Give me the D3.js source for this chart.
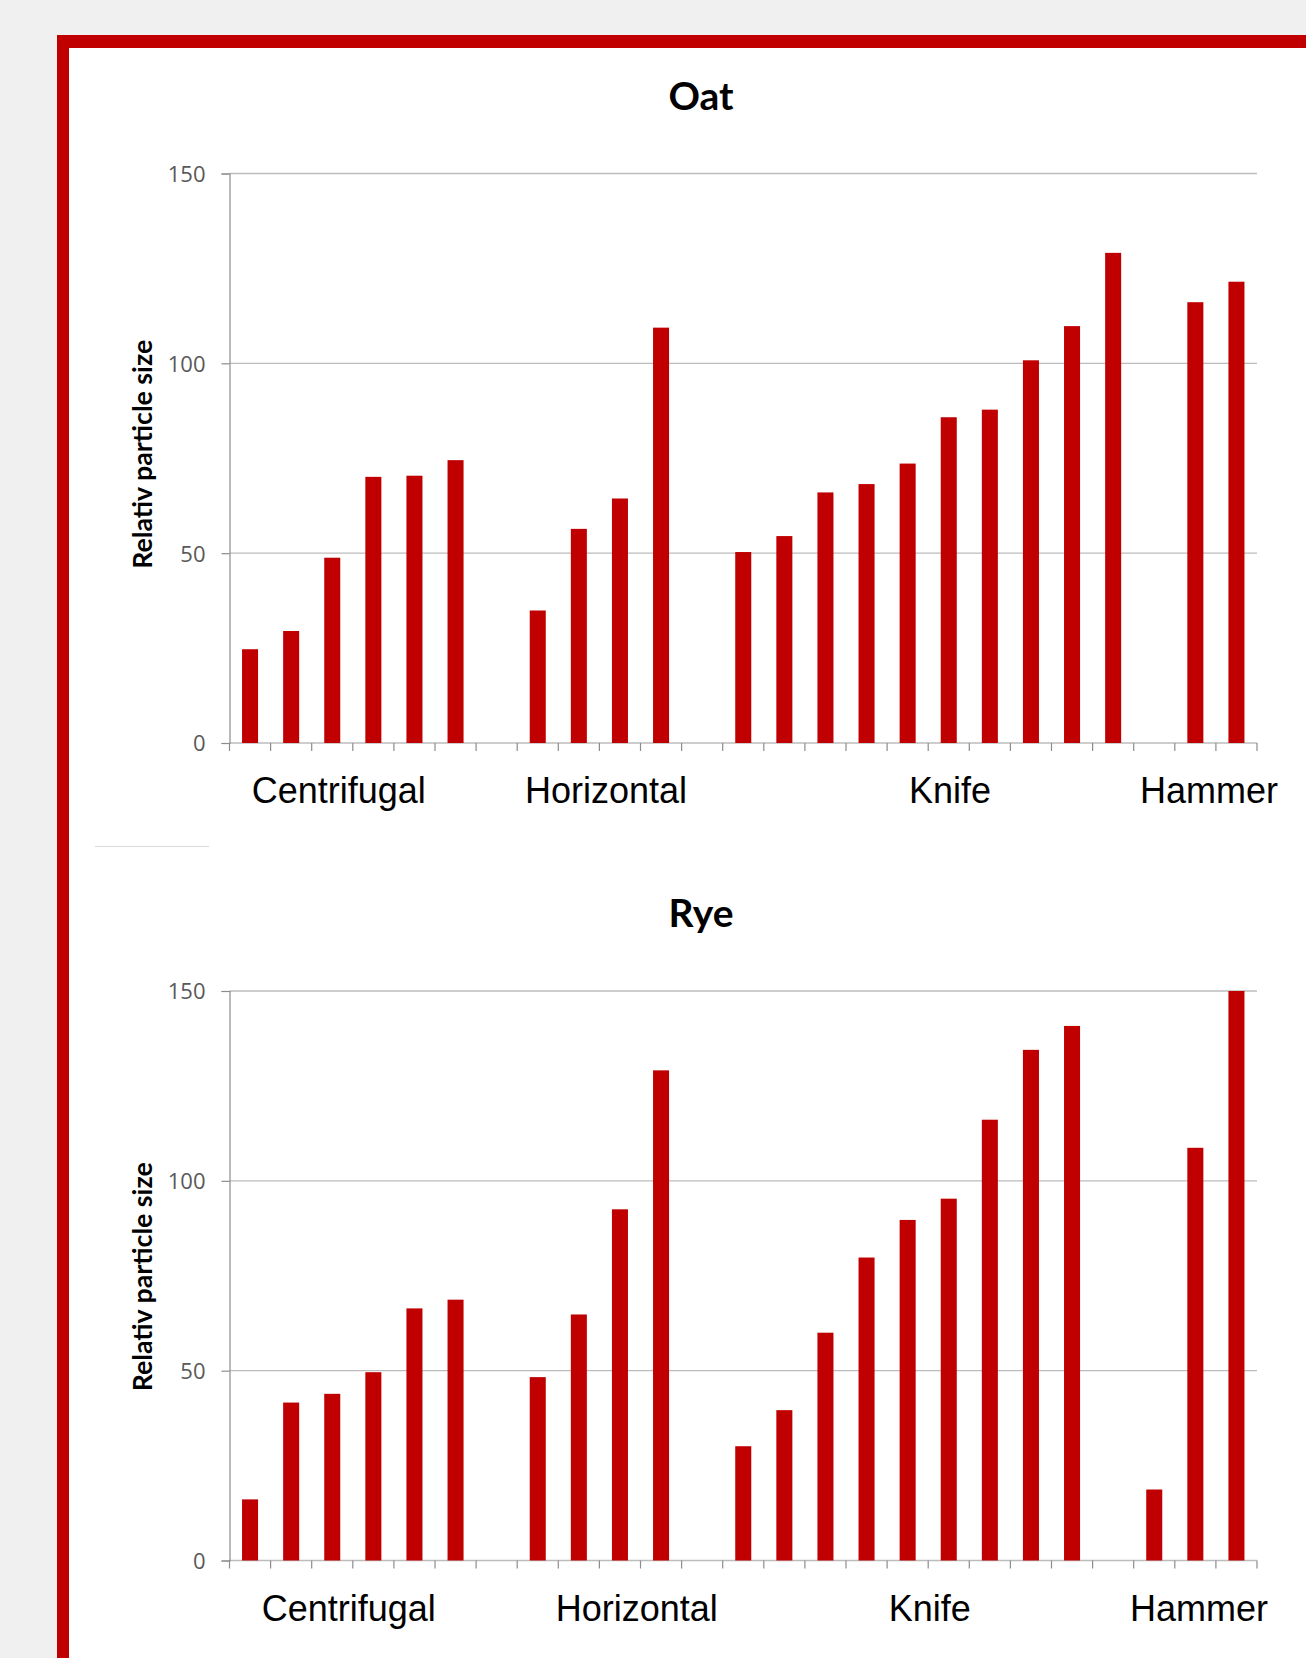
<!DOCTYPE html>
<html>
<head>
<meta charset="utf-8">
<script src="https://cdn.jsdelivr.net/npm/d3@7"></script>
<style>
  html, body { margin: 0; padding: 0; background: #eff0ef; }
  svg { display: block; }
</style>
</head>
<body>
<svg id="chart" width="1306" height="1658"></svg>
<script>
// ---------- DATA ----------
const groups = ["Centrifugal", "Horizontal", "Knife", "Hammer"];
const yTicks = [0, 50, 100, 150];
const axisTitle = "Relativ particle size";

const oatCentrifugal = [24.7, 29.5, 48.8, 70.1, 70.4, 74.5];
const oatHorizontal  = [34.9, 56.4, 64.4, 109.4];
const oatKnife       = [50.3, 54.5, 66.0, 68.2, 73.6, 85.8, 87.8, 100.8, 109.8, 129.1];
const oatHammer      = [116.1, 121.5];

const ryeCentrifugal = [16.1, 41.6, 43.9, 49.6, 66.4, 68.7];
const ryeHorizontal  = [48.3, 64.8, 92.5, 129.1];
const ryeKnife       = [30.1, 39.6, 60.0, 79.8, 89.7, 95.3, 116.1, 134.5, 140.8];
const ryeHammer      = [18.7, 108.7, 150.0];

// ---------- LAYOUT ----------
const RED = "#c00000";
const svg = d3.select("#chart");

// frame
svg.append("rect").attr("x", 57).attr("y", 35).attr("width", 1306 - 57).attr("height", 1658 - 35).attr("fill", RED);
svg.append("rect").attr("x", 69).attr("y", 48).attr("width", 1306 - 69).attr("height", 1658 - 48).attr("fill", "#ffffff");

// stray separator line
svg.append("line").attr("x1", 95).attr("x2", 209).attr("y1", 846.5).attr("y2", 846.5)
  .attr("stroke", "#d9d9d9").attr("stroke-width", 1.2);

function buildSlots(seriesByGroup) {
  const slots = [];
  seriesByGroup.forEach((vals, gi) => {
    vals.forEach((v, i) => slots.push({ key: groups[gi] + "-" + i, group: groups[gi], value: v }));
    if (gi < seriesByGroup.length - 1) slots.push({ key: "gap-" + gi, group: null, value: null });
  });
  return slots;
}

function drawChart(cfg) {
  const slots = buildSlots(cfg.series);
  const x0 = 229.5, x1 = 1257;
  const x = d3.scaleBand().domain(slots.map(d => d.key)).range([x0, x1])
    .paddingInner(0.61).paddingOuter(0.305);
  const slotIdx = d3.scaleLinear().domain([0, slots.length]).range([x0, x1]);
  const y = d3.scaleLinear().domain([0, 150]).range([cfg.yBottom, cfg.yTop]);

  const g = svg.append("g");

  // gridlines
  g.selectAll(".grid").data(yTicks).enter().append("line")
    .attr("x1", x0).attr("x2", x1)
    .attr("y1", d => y(d)).attr("y2", d => y(d))
    .attr("stroke", "#bcbcbc").attr("stroke-width", 1.4);

  // y axis
  const yAxis = d3.axisLeft(y).tickValues(yTicks).tickSize(8).tickPadding(16).tickFormat(d3.format("d"));
  const ya = g.append("g").attr("transform", `translate(${x0},0)`).call(yAxis);
  ya.select(".domain").attr("stroke", "#8c8c8c").attr("stroke-width", 1.2);
  ya.selectAll(".tick line").attr("stroke", "#8c8c8c").attr("stroke-width", 1.2);
  ya.selectAll(".tick text").attr("font-family", "'Open Sans', sans-serif").attr("font-size", 22)
    .attr("fill", "#595959").attr("dy", "0.36em");

  // x ticks at slot boundaries
  g.selectAll(".xt").data(d3.range(slots.length + 1)).enter().append("line")
    .attr("x1", d => slotIdx(d)).attr("x2", d => slotIdx(d))
    .attr("y1", cfg.yBottom).attr("y2", cfg.yBottom + 8)
    .attr("stroke", "#8c8c8c").attr("stroke-width", 1.2);

  // bars
  g.selectAll(".bar").data(slots.filter(d => d.value !== null)).enter().append("rect")
    .attr("x", d => x(d.key)).attr("width", x.bandwidth())
    .attr("y", d => y(d.value)).attr("height", d => y(0) - y(d.value))
    .attr("fill", RED);

  // title
  g.append("text").attr("x", 701).attr("y", cfg.titleY).attr("text-anchor", "middle")
    .attr("font-family", "Lato, sans-serif").attr("font-weight", 700).attr("font-size", 39)
    .attr("fill", "#000").text(cfg.title);

  // y axis title
  const cy = (cfg.yTop + cfg.yBottom) / 2 + cfg.yLabelShift;
  g.append("text").attr("transform", `translate(152,${cy}) rotate(-90)`)
    .attr("text-anchor", "middle")
    .attr("font-family", "Lato, sans-serif").attr("font-weight", 700).attr("font-size", 26)
    .attr("textLength", 229).attr("lengthAdjust", "spacingAndGlyphs")
    .attr("fill", "#000").text(axisTitle);

  // group labels
  g.selectAll(".glabel").data(groups).enter().append("text")
    .attr("x", (d, i) => slotIdx(cfg.labelSlot[i]))
    .attr("y", cfg.yBottom + 60)
    .attr("text-anchor", "middle")
    .attr("font-family", "'Liberation Sans', Arial, sans-serif").attr("font-size", 36)
    .attr("fill", "#000").text(d => d);
}

drawChart({
  title: "Oat", titleY: 110, yTop: 173.5, yBottom: 743, yLabelShift: -4,
  series: [oatCentrifugal, oatHorizontal, oatKnife, oatHammer],
  labelSlot: [2.66, 9.16, 17.53, 23.83]
});
drawChart({
  title: "Rye", titleY: 927, yTop: 991, yBottom: 1560.5, yLabelShift: 1,
  series: [ryeCentrifugal, ryeHorizontal, ryeKnife, ryeHammer],
  labelSlot: [2.90, 9.91, 17.04, 23.59]
});
</script>
</body>
</html>
